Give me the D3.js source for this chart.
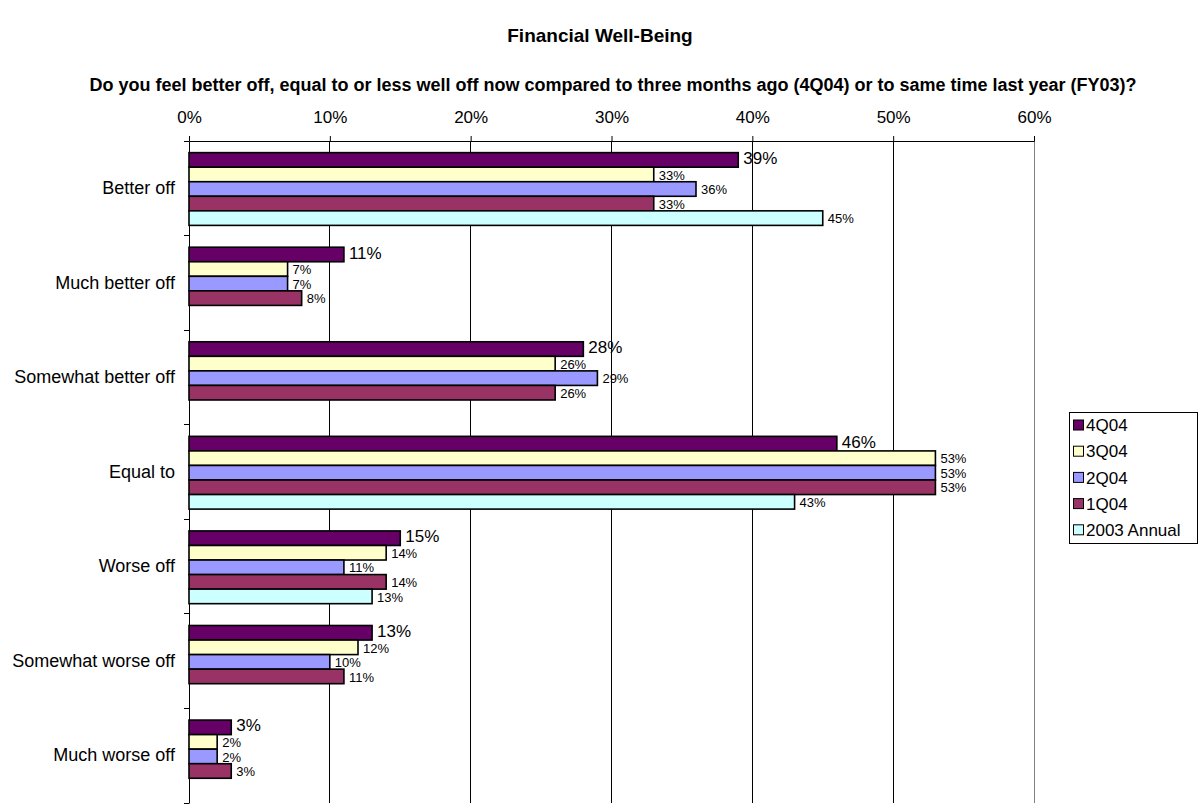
<!DOCTYPE html>
<html><head><meta charset="utf-8">
<script src="https://cdn.jsdelivr.net/npm/d3@7/dist/d3.min.js"></script>
<style>body{margin:0;background:#fff;}svg{display:block;font-family:Arial,"Liberation Sans",sans-serif;}</style>
</head><body>
<svg id="c" width="1203" height="805"></svg>
<script>
const categories = ["Better off","Much better off","Somewhat better off","Equal to","Worse off","Somewhat worse off","Much worse off"];
const seriesNames = ["4Q04","3Q04","2Q04","1Q04","2003 Annual"];
const s4Q04 = [39,11,28,46,15,13,3];
const s3Q04 = [33,7,26,53,14,12,2];
const s2Q04 = [36,7,29,53,11,10,2];
const s1Q04 = [33,8,26,53,14,11,3];
const s2003 = [45,null,null,43,13,null,null];
const tickValues = [0,10,20,30,40,50,60];
const colors = ["#660066","#FFFFCC","#9999FF","#993366","#CCFFFF"];
const seriesValues = [s4Q04,s3Q04,s2Q04,s1Q04,s2003];

const FONT = "Arial,'Liberation Sans',sans-serif";
const svg = d3.select("#c");
const L = 189, R = 1034, T = 141, B = 803;
const x = d3.scaleLinear().domain([0,60]).range([L,R]);
const y = d3.scaleBand().domain(categories).range([T,B]).paddingInner(0).paddingOuter(0);
const band = y.bandwidth();
const barH = band/6.5;
const groupOff = barH*0.8;
const inner = d3.scaleBand().domain(seriesNames).range([0,barH*5]);

svg.append("text").attr("x",600).attr("y",42).attr("text-anchor","middle")
  .attr("font-weight","bold").attr("font-size",19).text("Financial Well-Being");
svg.append("text").attr("x",613).attr("y",91).attr("text-anchor","middle")
  .attr("font-weight","bold").attr("font-size",18)
  .text("Do you feel better off, equal to or less well off now compared to three months ago (4Q04) or to same time last year (FY03)?");

// gridlines
svg.append("g").selectAll("line").data(tickValues.slice(1)).join("line")
  .attr("x1",d=>x(d)).attr("x2",d=>x(d)).attr("y1",T).attr("y2",B)
  .attr("stroke",d=>d===60?"#808080":"#000").attr("stroke-width",1).attr("shape-rendering","crispEdges");

// top axis
const ax = svg.append("g").attr("transform",`translate(0,${T})`)
  .call(d3.axisTop(x).tickValues(tickValues).tickFormat(d=>d+"%").tickSize(5).tickPadding(13));
ax.select(".domain").attr("stroke","#000");
ax.selectAll("text").attr("font-size",17).attr("font-family",FONT).attr("fill","#000");
ax.selectAll("line").attr("stroke","#000");

// left axis
const ay = svg.append("g").attr("transform",`translate(${L},0)`)
  .call(d3.axisLeft(y).tickSize(0).tickPadding(14));
ay.select(".domain").attr("stroke","#000");
ay.selectAll("text").attr("font-size",18).attr("font-family",FONT).attr("fill","#000");
svg.append("g").selectAll("line").data(d3.range(categories.length+1)).join("line")
  .attr("x1",L-5).attr("x2",L).attr("y1",i=>T+i*band).attr("y2",i=>T+i*band)
  .attr("stroke","#000").attr("shape-rendering","crispEdges");

// bars
seriesValues.forEach((vals,si)=>{
  const g = svg.append("g");
  const data = vals.map((v,i)=>({v,c:categories[i]})).filter(d=>d.v!==null);
  g.selectAll("rect").data(data).join("rect")
    .attr("x",L).attr("y",d=>y(d.c)+groupOff+inner(seriesNames[si]))
    .attr("width",d=>x(d.v)-L).attr("height",barH)
    .attr("fill",colors[si]).attr("stroke","#000").attr("stroke-width",1.6);
  g.selectAll("text").data(data).join("text")
    .attr("x",d=>x(d.v)+5)
    .attr("y",d=>y(d.c)+groupOff+inner(seriesNames[si])+barH/2+(si===0?-2:0.5))
    .attr("dy","0.36em")
    .attr("font-size",si===0?17:13).attr("fill","#000")
    .text(d=>d.v+"%");
});

// legend
const lg = svg.append("g");
lg.append("rect").attr("x",1069.5).attr("y",412.5).attr("width",128).attr("height",131)
  .attr("fill","#fff").attr("stroke","#000");
seriesNames.forEach((n,i)=>{
  const cy = 425 + i*26.2;
  lg.append("rect").attr("x",1073.5).attr("y",cy-5).attr("width",10).attr("height",10)
    .attr("fill",colors[i]).attr("stroke","#000");
  lg.append("text").attr("x",1086).attr("y",cy).attr("dy","0.36em").attr("font-size",17).text(n);
});
</script>
</body></html>
